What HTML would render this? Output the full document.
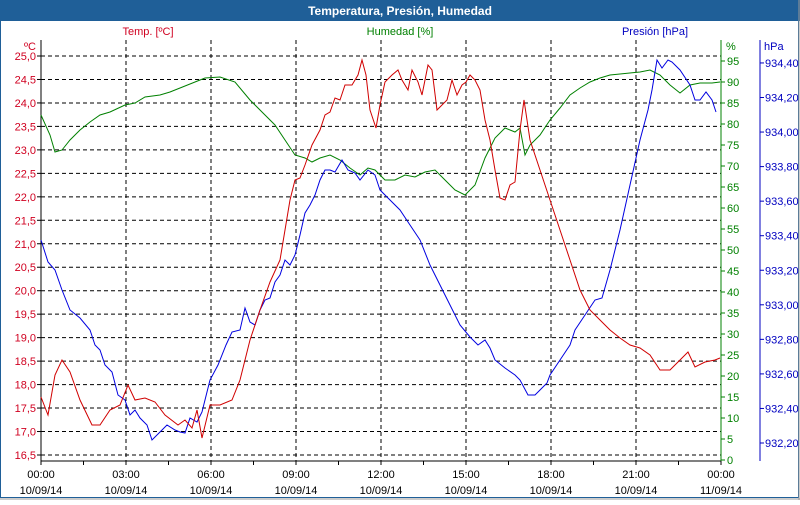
<!DOCTYPE html>
<html><head><meta charset="utf-8"><style>
body{margin:0;width:800px;height:500px;overflow:hidden;background:#fff;font-family:"Liberation Sans",sans-serif}
</style></head><body>
<svg width="800" height="500" xmlns="http://www.w3.org/2000/svg" font-family="Liberation Sans, sans-serif" font-size="11">
<rect x="0" y="0" width="800" height="500" fill="#fff"/>
<rect x="0" y="0" width="800" height="21" fill="#1f5f98"/>
<rect x="0.5" y="0.5" width="798" height="497" fill="none" stroke="#1f5f98"/>
<line x1="0" y1="499" x2="800" y2="499" stroke="#999"/>
<line x1="799" y1="0" x2="799" y2="500" stroke="#999"/>
<text x="400" y="15" fill="#fff" font-weight="bold" font-size="12" text-anchor="middle">Temperatura, Presión, Humedad</text>
<text x="148" y="35" fill="#d00020" text-anchor="middle">Temp. [ºC]</text>
<text x="400" y="35" fill="#008000" text-anchor="middle">Humedad [%]</text>
<text x="655" y="35" fill="#0000c0" text-anchor="middle">Presión [hPa]</text>
<g id="grid" stroke="#000" stroke-dasharray="4,3" stroke-width="1"></g>
<g id="ax"></g>
<polyline id="hum" fill="none" stroke="#008000" stroke-width="1"/>
<polyline id="pre" fill="none" stroke="#0000e0" stroke-width="1"/>
<polyline id="tmp" fill="none" stroke="#d00000" stroke-width="1"/>
</svg>
<script>
var NS="http://www.w3.org/2000/svg",s=document.querySelector('svg'),g=document.getElementById('grid'),a=document.getElementById('ax');
function el(p,t,at,tx){var e=document.createElementNS(NS,t);for(var k in at)e.setAttribute(k,at[k]);if(tx)e.textContent=tx;p.appendChild(e);return e}
var L=41,R=721,T=40,B=461;
for(var k=0;k<=17;k++){var y=56+k*23.47;el(g,'line',{x1:L,x2:R,y1:y,y2:y});
 var v=(25-k*0.5).toFixed(1).replace('.',',');el(a,'text',{x:36,y:y+4,fill:'#d00020','text-anchor':'end'},v);
 el(a,'line',{x1:L-4,x2:L,y1:y,y2:y,stroke:'#000'});}
for(var k=1;k<8;k++){var x=L+k*85;el(g,'line',{x1:x,x2:x,y1:T,y2:B});}
el(a,'line',{x1:L,x2:L,y1:T,y2:B+1,stroke:'#000'});
el(a,'line',{x1:L,x2:R,y1:B,y2:B,stroke:'#000'});
el(a,'line',{x1:R,x2:R,y1:T,y2:B,stroke:'#008000'});
el(a,'line',{x1:760,x2:760,y1:T,y2:B,stroke:'#0000c0'});
el(a,'text',{x:36,y:50,fill:'#d00020','text-anchor':'end'},'ºC');
el(a,'text',{x:726,y:50,fill:'#008000'},'%');
el(a,'text',{x:764,y:50,fill:'#0000c0'},'hPa');
for(var k=0;k<=19;k++){var y=460-k*21;el(a,'line',{x1:R,x2:R+4,y1:y,y2:y,stroke:'#008000'});
 el(a,'text',{x:727,y:y+4,fill:'#008000'},String(k*5));}
for(var k=0;k<=11;k++){var y=443-k*34.55;el(a,'line',{x1:760,x2:764,y1:y,y2:y,stroke:'#0000c0'});
 el(a,'text',{x:765,y:y+4,fill:'#0000c0'},(932.2+k*0.2).toFixed(2).replace('.',','));}
var tl=['00:00','03:00','06:00','09:00','12:00','15:00','18:00','21:00','00:00'];
for(var k=0;k<=16;k++){var x=L+k*42.5;el(a,'line',{x1:x,x2:x,y1:B,y2:B+4,stroke:'#000'});}
for(var k=0;k<=8;k++){var x=L+k*85;el(a,'text',{x:x,y:478,fill:'#000','text-anchor':'middle'},tl[k]);
 el(a,'text',{x:x,y:494,fill:'#000','text-anchor':'middle'},k==8?'11/09/14':'10/09/14');}
document.getElementById('tmp').setAttribute('points',"41,397 48,415 55,375 62,360 70,372 80,400 92,425 100,425 110,410 120,405 128,385 135,400 145,398 155,402 165,415 178,425 185,420 192,428 197,410 202,438 210,405 220,405 232,400 240,380 250,340 260,310 270,282 280,260 290,200 295,180 300,178 305,165 312,145 320,130 325,115 330,112 335,98 340,100 345,85 352,85 358,75 362,60 366,75 370,110 376,128 380,105 385,82 392,75 398,70 402,80 408,90 412,70 418,82 422,95 428,65 432,70 437,110 442,105 447,100 452,80 457,95 462,85 466,82 470,75 475,80 480,90 485,120 490,140 495,170 500,198 505,200 510,185 515,182 520,130 524,100 530,140 540,170 550,200 560,230 570,260 580,290 590,310 600,320 610,330 620,338 630,345 640,348 650,355 660,370 670,370 680,360 688,352 695,367 705,362 715,360 720,358");
document.getElementById('hum').setAttribute('points',"41,115 50,135 55,152 62,150 70,140 80,130 90,122 100,115 110,112 125,105 135,103 145,97 160,95 170,92 180,88 195,82 205,78 220,77 235,82 250,100 265,115 275,125 285,140 295,155 305,158 312,162 320,158 330,155 340,160 350,168 360,175 368,168 375,170 385,180 395,180 405,175 415,177 425,172 435,170 445,180 455,190 465,195 475,185 485,158 495,138 505,128 515,132 520,128 525,155 530,145 540,135 550,120 560,108 570,95 580,88 590,82 600,78 610,75 620,74 640,72 650,70 660,75 670,85 680,93 690,85 700,83 712,83 720,82");
document.getElementById('pre').setAttribute('points',"41,240 48,262 55,270 62,290 70,310 80,318 90,330 95,345 100,350 105,365 112,372 118,395 125,400 130,415 135,410 140,418 147,425 152,440 160,432 167,425 175,430 180,432 185,433 190,418 197,422 202,412 210,380 218,365 226,345 232,332 240,330 245,308 250,322 255,325 260,310 265,300 270,298 275,282 280,275 285,260 290,265 295,255 300,235 305,213 310,205 315,195 320,180 325,170 330,170 335,172 342,160 348,170 355,173 360,180 368,170 375,175 380,190 390,200 400,210 410,225 420,240 430,265 440,285 450,305 460,325 470,337 478,345 485,340 490,348 495,360 505,368 515,375 520,380 528,395 535,395 540,390 547,383 550,375 560,360 570,345 575,330 585,315 595,300 602,298 610,270 620,230 630,185 640,140 648,110 652,90 657,60 662,68 668,60 672,62 680,70 690,85 695,100 700,100 706,92 712,100 716,112");
</script>
</body></html>
